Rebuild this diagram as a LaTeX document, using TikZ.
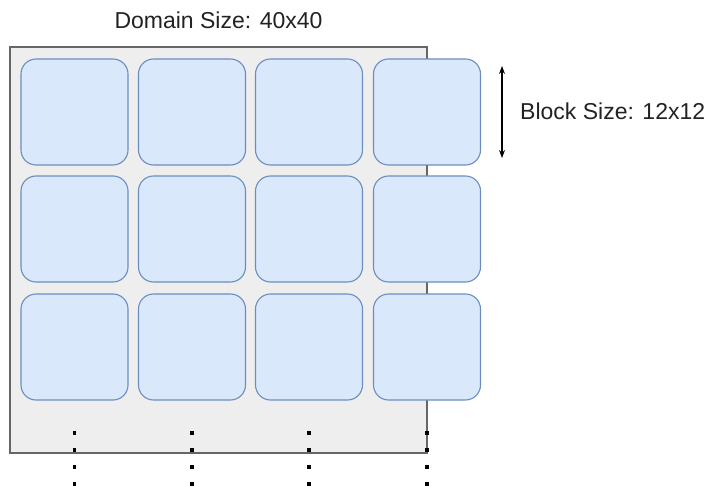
\documentclass[tikz,border=0pt]{standalone}
\usepackage{fontspec}
\setmainfont{Liberation Sans}
\usetikzlibrary{arrows.meta}
\definecolor{domfill}{HTML}{EEEEEE}
\definecolor{domline}{HTML}{666666}
\definecolor{blkfill}{HTML}{DAE8FC}
\definecolor{blkline}{HTML}{6C8EBF}
\definecolor{txt}{HTML}{222222}
\tikzset{
  domainbox/.style={draw=domline, fill=domfill, line width=1.3pt, minimum width=417pt, minimum height=406pt, inner sep=0pt},
  blockbox/.style={draw=blkline, fill=blkfill, line width=1.1pt, rounded corners=15pt, minimum width=107pt, minimum height=106pt, inner sep=0pt},
  lbl/.style={text=txt, font=\fontsize{23}{27}\selectfont, inner sep=0pt},
  dotline/.style={black, line width=3.6pt, dash pattern=on 3.6pt off 13.4pt},
  dimarrow/.style={black, line width=1.1pt, {Stealth[length=8pt,width=6pt]}-{Stealth[length=8pt,width=6pt]}}
}
\begin{document}
\begin{tikzpicture}[x=1pt,y=-1pt]
\useasboundingbox (0,0) rectangle (709,489);
\node[domainbox] (dom) at (218.5,250) {};
\foreach \c/\x in {1/74.5,2/192,3/309,4/427}{
  \foreach \r/\y in {1/112,2/229,3/347}{
    \node[blockbox] (b\c-\r) at (\x,\y) {};
  }
  \coordinate (d\c-top) at (\x,431);
  \coordinate (d\c-bot) at (\x,488);
  \draw[dotline] (d\c-top) -- (d\c-bot);
}
\node[lbl] (domlbl) at (218.5,20) {Domain Size: 40x40};
\coordinate (arrtop) at (502,66);
\coordinate (arrbot) at (502,158);
\draw[dimarrow] (arrtop) -- (arrbot);
\node[lbl, anchor=west] (blklbl) at (520,111) {Block Size: 12x12};
\end{tikzpicture}
\end{document}
